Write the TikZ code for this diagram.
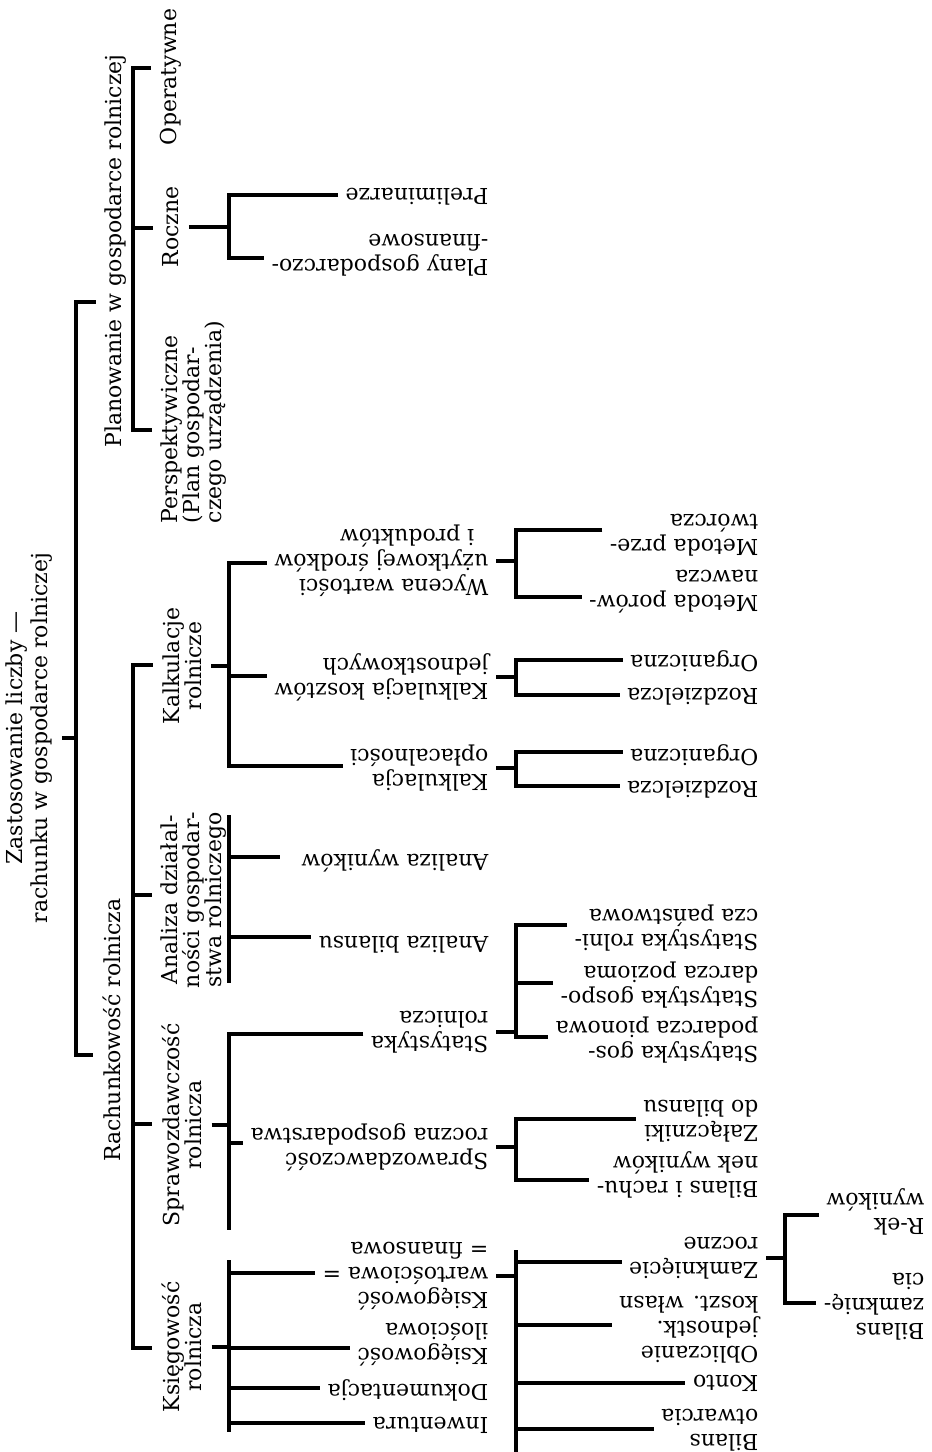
\documentclass[tikz,border=0pt]{standalone}
\usepackage{fontspec}
\setmainfont{DejaVu Serif}
\begin{document}
\begin{tikzpicture}[x=0.5pt, y=-0.5pt, line width=1.6pt,
  vtext/.style={rotate=90, align=center, inner sep=4pt, font=\fontsize{11}{11}\selectfont},
  itext/.style={rotate=180, align=left, anchor=west, inner xsep=3pt, inner ysep=1pt, font=\fontsize{11}{12.5}\selectfont}]
\useasboundingbox (0,0) rectangle (932,1452);

\node[vtext, font=\fontsize{11}{12.5}\selectfont] (root) at (29,738) {Zastosowanie liczby —\\rachunku w gospodarce rolniczej};
\node[vtext] (plan) at (116,251) {Planowanie w gospodarce rolniczej};
\node[vtext] (rach) at (112,1030) {Rachunkowość rolnicza};

\node[vtext] (oper) at (171,77) {Operatywne};
\node[vtext] (rocz) at (171,227) {Roczne};
\node[vtext, align=left] (persp) at (194,422) {Perspektywiczne\\(Plan gospodar-\\czego urządzenia)};
\node[vtext] (kalk) at (182,666) {Kalkulacje\\rolnicze};
\node[vtext] (anal) at (194,900) {Analiza działal-\\ności gospodar-\\stwa rolniczego};
\node[vtext] (spraw) at (182,1125) {Sprawozdawczość\\rolnicza};
\node[vtext] (ksieg) at (182,1347) {Księgowość\\rolnicza};

\node[itext] (prel) at (496,197) {Preliminarze};
\node[itext] (plany) at (496,255) {Plany gospodarczo-\\-finansowe};
\node[itext] (wyc) at (496,561) {Wycena wartości\\użytkowej środków\\\hspace*{7pt}i produktów};
\node[itext] (kkj) at (496,677) {Kalkulacja kosztów\\jednostkowych};
\node[itext] (kop) at (496,768) {Kalkulacja\\opłacalności};
\node[itext] (awyn) at (496,861) {Analiza wyników};
\node[itext] (abil) at (496,945) {Analiza bilansu};
\node[itext] (stat) at (496,1032) {Statystyka\\rolnicza};
\node[itext] (sroc) at (496,1147) {Sprawozdawczość\\roczna gospodarstwa};
\node[itext] (kwar) at (496,1276) {Księgowość\\wartościowa =\\= finansowa};
\node[itext] (kil) at (496,1345) {Księgowość\\ilościowa};
\node[itext] (dok) at (496,1390) {Dokumentacja};
\node[itext] (inw) at (496,1425) {Inwentura};

\node[itext] (mprz) at (766,535) {Metoda prze-\\twórcza};
\node[itext] (mpor) at (766,592) {Metoda porów-\\nawcza};
\node[itext] (korg) at (766,661) {Organiczna};
\node[itext] (kroz) at (766,697) {Rozdzielcza};
\node[itext] (oorg) at (766,755) {Organiczna};
\node[itext] (oroz) at (766,790) {Rozdzielcza};
\node[itext] (span) at (766,928) {Statystyka rolni-\\cza państwowa};
\node[itext] (spoz) at (766,985) {Statystyka gospo-\\darcza pozioma};
\node[itext] (spio) at (766,1040) {Statystyka gos-\\podarcza pionowa};
\node[itext] (zal) at (766,1121) {Załączniki\\do bilansu};
\node[itext] (bil) at (766,1175) {Bilans i rachu-\\nek wyników};
\node[itext] (zamk) at (766,1258) {Zamknięcie\\roczne};
\node[itext] (obl) at (766,1330) {Obliczanie\\jednostk.\\koszt. własn};
\node[itext] (konto) at (766,1383) {Konto};
\node[itext] (botw) at (766,1430) {Bilans\\otwarcia};

\node[itext] (rek) at (932,1212) {R-ek\\wyników};
\node[itext] (bzam) at (932,1307) {Bilans\\zamknię-\\cia};

\coordinate (m1) at (76,302); \coordinate (m2) at (76,1055);
\draw (root.south) -- (root.south -| m1);
\draw (m1 -| plan.north) -- (m1) -- (m2) -- (m2 -| rach.north);

\coordinate (p1) at (133,68); \coordinate (p2) at (133,228); \coordinate (p3) at (133,430);
\draw (p1 -| oper.north) -- (p1) -- (p3) -- (p3 -| persp.north);
\draw (p2) -- (p2 -| rocz.north);

\coordinate (r1) at (133,665); \coordinate (r2) at (133,895);
\coordinate (r3) at (133,1124); \coordinate (r4) at (133,1348);
\draw (r1 -| kalk.north) -- (r1) -- (r4) -- (r4 -| ksieg.north);
\draw (r2) -- (r2 -| anal.north);
\draw (r3) -- (r3 -| spraw.north);

\coordinate (q1) at (229,195); \coordinate (q2) at (229,258);
\draw (rocz.south) -- (rocz.south -| q1);
\draw (q1 -| prel.east) -- (q1) -- (q2) -- (q2 -| plany.east);

\coordinate (k1) at (229,563); \coordinate (k2) at (229,676); \coordinate (k3) at (229,766);
\draw (kalk.south) -- (kalk.south -| k1);
\draw (k1 -| wyc.east) -- (k1) -- (k3) -- (k3 -| kop.east);
\draw (k2) -- (k2 -| kkj.east);

\coordinate (a0) at (229,815); \coordinate (a1) at (229,857);
\coordinate (a2) at (229,937); \coordinate (a3) at (229,983);
\draw (a0) -- (a3);
\draw[shorten >=7pt] (a1) -- (a1 -| awyn.east);
\draw (a2) -- (a2 -| abil.east);

\coordinate (s1) at (229,1034); \coordinate (s2) at (229,1143); \coordinate (s3) at (229,1230);
\draw (spraw.south) -- (spraw.south -| s1);
\draw (s1 -| stat.east) -- (s1) -- (s3);
\draw (s2) -- (s2 -| sroc.east);

\coordinate (g0) at (229,1260); \coordinate (g1) at (229,1273); \coordinate (g2) at (229,1348);
\coordinate (g3) at (229,1388); \coordinate (g4) at (229,1423); \coordinate (g5) at (229,1432);
\draw (ksieg.south) -- (ksieg.south -| g1);
\draw (g0) -- (g5);
\draw (g1) -- (g1 -| kwar.east);
\draw (g2) -- (g2 -| kil.east);
\draw (g3) -- (g3 -| dok.east);
\draw (g4) -- (g4 -| inw.east);

\coordinate (w1) at (516,530); \coordinate (w2) at (516,597);
\draw (wyc.west) -- (wyc.west -| w1);
\draw (w1 -| mprz.east) -- (w1) -- (w2) -- (w2 -| mpor.east);

\coordinate (c1) at (516,660); \coordinate (c2) at (516,695);
\draw (kkj.west) -- (kkj.west -| c1);
\draw (c1 -| korg.east) -- (c1) -- (c2) -- (c2 -| kroz.east);

\coordinate (o1) at (516,752); \coordinate (o2) at (516,786);
\draw (kop.west) -- (kop.west -| o1);
\draw (o1 -| oorg.east) -- (o1) -- (o2) -- (o2 -| oroz.east);

\coordinate (t1) at (516,925); \coordinate (t2) at (516,983); \coordinate (t3) at (516,1037);
\draw (stat.west) -- (stat.west -| t1);
\draw (t1 -| span.east) -- (t1) -- (t3) -- (t3 -| spio.east);
\draw (t2) -- (t2 -| spoz.east);

\coordinate (u1) at (516,1119); \coordinate (u2) at (516,1180);
\draw (sroc.west) -- (sroc.west -| u1);
\draw (u1 -| zal.east) -- (u1) -- (u2) -- (u2 -| bil.east);

\coordinate (v0) at (516,1250); \coordinate (v1) at (516,1262); \coordinate (v2) at (516,1325);
\coordinate (v3) at (516,1383); \coordinate (v4) at (516,1429); \coordinate (v5) at (516,1452);
\draw (kwar.west) -- (kwar.west -| v1);
\draw (v0) -- (v5);
\draw (v1) -- (v1 -| zamk.east);
\draw (v2) -- (v2 -| obl.east);
\draw (v3) -- (v3 -| konto.east);
\draw (v4) -- (v4 -| botw.east);

\coordinate (z1) at (785,1215); \coordinate (z2) at (785,1303);
\draw (zamk.west) -- (zamk.west -| z1);
\draw (z1 -| rek.east) -- (z1) -- (z2) -- (z2 -| bzam.east);
\end{tikzpicture}
\end{document}
